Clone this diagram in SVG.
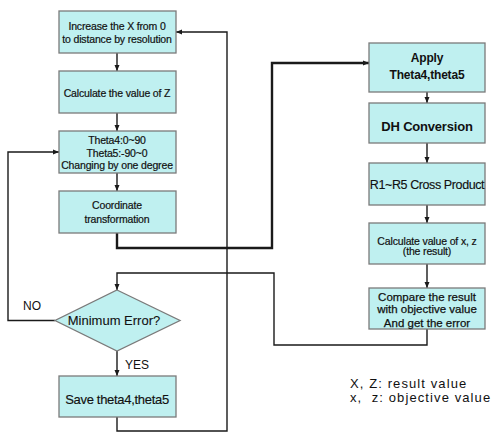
<svg xmlns="http://www.w3.org/2000/svg" width="493" height="432" viewBox="0 0 493 432">
<style>
.box{fill:#bff0f0;stroke:#7a7a7a;stroke-width:1.3}
.t{font-family:"Liberation Sans",Arial,sans-serif;fill:#111;text-anchor:middle;stroke:#111;stroke-width:0.2}
.s{font-size:10.5px;letter-spacing:-0.15px}
.m{font-size:12px;font-weight:bold;letter-spacing:-0.2px;stroke-width:0}
.c{fill:none;stroke:#1a1a1a;stroke-width:1.4}
.b{stroke-width:2.4}
.lbl{font-family:"Liberation Sans",Arial,sans-serif;fill:#111;font-size:12px}
.lg{font-family:"Liberation Sans",Arial,sans-serif;fill:#111;font-size:13px;letter-spacing:1.1px;white-space:pre}
</style>
<defs>
<marker id="ah" viewBox="0 0 6 6" refX="6" refY="3" markerWidth="6" markerHeight="6" markerUnits="userSpaceOnUse" orient="auto">
<path d="M0,0.5 L6,3 L0,5.5 z" fill="#1a1a1a"/>
</marker>
</defs>
<rect width="493" height="432" fill="#fff"/>
<g id="connectors">
<path class="c" d="M117,53 V71" marker-end="url(#ah)"/>
<path class="c" d="M117,113 V131" marker-end="url(#ah)"/>
<path class="c" d="M117,173 V191" marker-end="url(#ah)"/>
<path class="c b" d="M117,233 V248 H272 V63 H369" marker-end="url(#ah)"/>
<path class="c" d="M427,92 V103" marker-end="url(#ah)"/>
<path class="c" d="M427,143 V163" marker-end="url(#ah)"/>
<path class="c" d="M427,205 V223" marker-end="url(#ah)"/>
<path class="c" d="M427,264 V288" marker-end="url(#ah)"/>
<path class="c" d="M427,329 V345 H274 V273 H117 V290" marker-end="url(#ah)"/>
<path class="c" d="M117,351 V376" marker-end="url(#ah)"/>
<path class="c" d="M55,320.5 H8 V152 H59" marker-end="url(#ah)"/>
<path class="c" d="M117,417 V431 H227 V32 H176" marker-end="url(#ah)"/>
<text class="lbl" x="23" y="310">NO</text>
<text class="lbl" x="125" y="369">YES</text>
</g>
<g id="n1"><rect class="box" x="59" y="11" width="117" height="42"/>
<text class="t s" x="117" y="30">Increase the X from 0</text>
<text class="t s" x="117" y="43">to distance by resolution</text></g>
<g id="n2"><rect class="box" x="59" y="71" width="117" height="42"/>
<text class="t s" x="117" y="97">Calculate the value of Z</text></g>
<g id="n3"><rect class="box" x="59" y="131" width="117" height="42"/>
<text class="t s" x="117" y="144">Theta4:0~90</text>
<text class="t s" x="117" y="156.5">Theta5:-90~0</text>
<text class="t s" x="117" y="169">Changing by one degree</text></g>
<g id="n4"><rect class="box" x="59" y="191" width="117" height="42"/>
<text class="t s" x="117" y="209">Coordinate</text>
<text class="t s" x="117" y="223">transformation</text></g>
<g id="n5"><path class="box" d="M117,290 L180,320.5 L117,351 L55,320.5 Z"/>
<text class="t" x="114" y="325" style="font-size:13px;stroke-width:0.1">Minimum Error?</text></g>
<g id="n6"><rect class="box" x="59" y="376" width="117" height="41"/>
<text class="t" x="117" y="403.5" style="font-size:13px;letter-spacing:-0.3px;stroke-width:0.15">Save theta4,theta5</text></g>
<g id="n7"><rect class="box" x="369" y="43" width="116" height="49"/>
<text class="t m" x="427" y="62">Apply</text>
<text class="t m" x="427" y="79">Theta4,theta5</text></g>
<g id="n8"><rect class="box" x="369" y="103" width="116" height="40"/>
<text class="t m" x="427" y="131" style="font-size:13px">DH Conversion</text></g>
<g id="n9"><rect class="box" x="369" y="163" width="116" height="42"/>
<text class="t" x="427" y="189" style="font-size:12.5px;letter-spacing:-0.4px;stroke-width:0.15">R1~R5 Cross Product</text></g>
<g id="n10"><rect class="box" x="369" y="223" width="116" height="41"/>
<text class="t s" x="427" y="244.5">Calculate value of x, z</text>
<text class="t s" x="427" y="255">(the result)</text></g>
<g id="n11"><rect class="box" x="369" y="288" width="116" height="41"/>
<text class="t" x="427" y="300.5" style="font-size:11.5px;stroke-width:0.25">Compare the result</text>
<text class="t" x="427" y="313" style="font-size:11.5px;stroke-width:0.25">with objective value</text>
<text class="t" x="427" y="326.5" style="font-size:11.5px;stroke-width:0.25">And get the error</text></g>
<g id="legend">
<text class="lg" x="350" y="388">X, Z: result value</text>
<text class="lg" x="350" y="402">x,  z: objective value</text>
</g>
</svg>
